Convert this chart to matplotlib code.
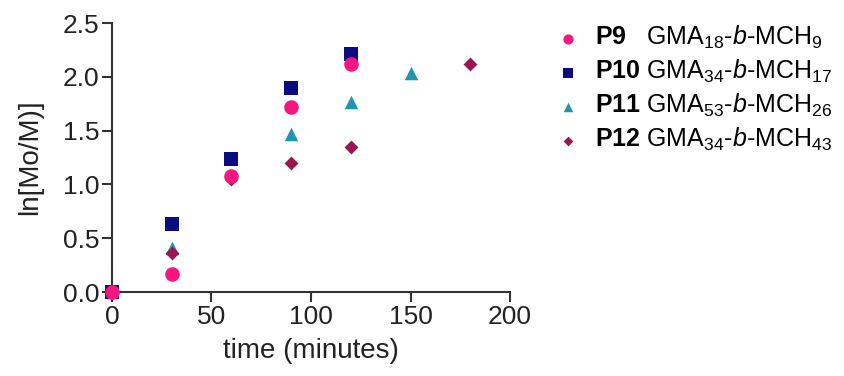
import matplotlib
matplotlib.use("Agg")
import matplotlib.pyplot as plt

plt.rcParams['font.family'] = ['Liberation Sans', 'DejaVu Sans']
plt.rcParams['mathtext.fontset'] = 'custom'
plt.rcParams['mathtext.rm'] = 'Liberation Sans'
plt.rcParams['mathtext.it'] = 'Liberation Sans:italic'
plt.rcParams['mathtext.bf'] = 'Liberation Sans:bold'

t_p9 = [0, 30, 60, 90, 120]
y_p9 = [0.0, 0.17, 1.08, 1.72, 2.12]
t_p10 = [0, 30, 60, 90, 120]
y_p10 = [0.0, 0.63, 1.24, 1.90, 2.21]
t_p11 = [0, 30, 90, 120, 150]
y_p11 = [0.0, 0.41, 1.47, 1.77, 2.04]
t_p12 = [0, 30, 60, 90, 120, 180]
y_p12 = [0.0, 0.36, 1.05, 1.20, 1.35, 2.12]

labels = [
    r'$\mathbf{P9}$   GMA$_{18}$-$\mathit{b}$-MCH$_{9}$',
    r'$\mathbf{P10}$ GMA$_{34}$-$\mathit{b}$-MCH$_{17}$',
    r'$\mathbf{P11}$ GMA$_{53}$-$\mathit{b}$-MCH$_{26}$',
    r'$\mathbf{P12}$ GMA$_{34}$-$\mathit{b}$-MCH$_{43}$',
]
colors = ['#f5177f', '#0b0b80', '#2196ae', '#9b1550']

fig = plt.figure(figsize=(8.45, 3.76), dpi=100)
ax = fig.add_axes([0.1325, 0.2234, 0.4711, 0.7154])

h9 = ax.scatter(t_p9, y_p9, marker='o', s=110, color=colors[0], zorder=6, clip_on=False, linewidths=0)
h10 = ax.scatter(t_p10, y_p10, marker='s', s=110, color=colors[1], zorder=5, clip_on=False, linewidths=0)
h11 = ax.scatter(t_p11, y_p11, marker='^', s=95, color=colors[2], zorder=3, clip_on=False, linewidths=0)
h12 = ax.scatter(t_p12, y_p12, marker='D', s=50, color=colors[3], zorder=4, clip_on=False, linewidths=0)

ax.set_xlim(0, 200)
ax.set_ylim(0, 2.5)
ax.set_xticks([0, 50, 100, 150, 200])
ax.set_yticks([0.0, 0.5, 1.0, 1.5, 2.0, 2.5])
ax.set_yticklabels(['0.0', '0.5', '1.0', '1.5', '2.0', '2.5'])
for s in ['top', 'right']:
    ax.spines[s].set_visible(False)
for s in ['left', 'bottom']:
    ax.spines[s].set_linewidth(1.5)
    ax.spines[s].set_color('#333333')
ax.tick_params(axis='both', direction='out', length=7, width=1.5, color='#333333',
               labelsize=19, labelcolor='#222222', pad=2)
ax.set_xlabel('time (minutes)', fontsize=20, color='#222222', labelpad=7)
ax.set_ylabel('ln[Mo/M)]', fontsize=20, color='#222222', labelpad=14)

fig.legend([h9, h10, h11, h12], labels, loc='upper left', bbox_to_anchor=(0.649, 0.962),
           frameon=False, fontsize=18, handletextpad=0.65, labelspacing=0.27,
           markerscale=0.7, scatterpoints=1, borderaxespad=0, handlelength=0.8)

fig.savefig('out.png', dpi=100)
